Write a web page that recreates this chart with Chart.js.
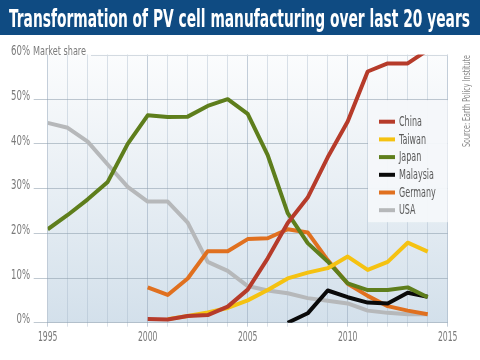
<!DOCTYPE html>
<html><head><meta charset="utf-8">
<script src="https://cdn.jsdelivr.net/npm/chart.js@4/dist/chart.umd.min.js"></script>
<style>html,body{margin:0;padding:0;background:#fff}#wrap{width:480px;height:360px;position:relative}canvas{display:block}</style>
</head><body><div id="wrap"><canvas id="c" width="480" height="360"></canvas></div>
<script>
// ---- data ----
const chartTitle = 'Transformation of PV cell manufacturing over last 20 years';
const yAxisName = 'Market share';
const sourceNote = 'Source: Earth Policy Institute';
const years = [1995,1996,1997,1998,1999,2000,2001,2002,2003,2004,2005,2006,2007,2008,2009,2010,2011,2012,2013,2014];
const seriesNames = ['China','Taiwan','Japan','Malaysia','Germany','USA'];
const china    = [null,null,null,null,null,0.8,0.7,1.5,1.7,3.6,7.4,14.4,22.3,28.0,37.0,45.0,56.2,58.0,58.0,61.0];
const taiwan   = [null,null,null,null,null,null,0.8,1.5,2.3,3.3,5.0,7.3,9.9,11.2,12.2,14.8,11.8,13.6,17.9,15.9];
const japan    = [20.9,24.1,27.6,31.5,40.0,46.4,46.0,46.1,48.5,50.0,46.7,37.5,24.5,17.8,13.7,8.8,7.3,7.3,7.9,5.7];
const malaysia = [null,null,null,null,null,null,null,null,null,null,null,null,0.0,2.1,7.2,5.7,4.5,4.3,6.7,5.8];
const germany  = [null,null,null,null,null,7.9,6.2,9.9,16.0,16.0,18.7,18.9,20.9,20.2,14.0,8.7,6.0,3.7,2.7,1.9];
const usa      = [44.7,43.6,40.5,35.4,30.4,27.1,27.1,22.4,13.6,11.6,8.2,7.2,6.6,5.5,4.9,4.3,2.7,2.2,1.9,1.9];
const yTicks = [0,10,20,30,40,50,60];
const xTickYears = [1995,2000,2005,2010,2015];

const seriesValues = [china, taiwan, japan, malaysia, germany, usa];
const seriesColors = ['#b63b2a','#f5c211','#5e7e1c','#0a0a0a','#e0701f','#b6b8ba'];

// ---- font selection ----
function pickFont(cands, fallback){
  const c = document.createElement('canvas').getContext('2d');
  const s = 'Transformation 0123456789% Malaysia';
  c.font = '40px monospace'; const b1 = c.measureText(s).width;
  c.font = '40px serif'; const b2 = c.measureText(s).width;
  for (const f of cands){
    c.font = `40px "${f}", monospace`; const w1 = c.measureText(s).width;
    c.font = `40px "${f}", serif`; const w2 = c.measureText(s).width;
    if (w1 !== b1 && w2 !== b2) return f;
  }
  return fallback;
}
const FONT = pickFont(['Liberation Sans Narrow','DejaVu Sans Condensed','Roboto Condensed','Open Sans Condensed'], 'Roboto');
Chart.defaults.font.family = `"${FONT}", Roboto, sans-serif`;
const font = (px, bold) => `${bold ? 'bold ' : ''}${px}px "${FONT}", Roboto, sans-serif`;

function scaledText(ctx, text, x, y, sx, align){
  const w = ctx.measureText(text).width;
  ctx.save();
  ctx.translate(x, y);
  ctx.scale(sx, 1);
  ctx.textAlign = 'left';
  let x0 = 0;
  if (align === 'right') x0 = -w; else if (align === 'center') x0 = -w/2;
  ctx.fillText(text, x0, 0);
  ctx.restore();
}
function fitText(ctx, text, x, y, targetW, align){
  scaledText(ctx, text, x, y, targetW / ctx.measureText(text).width, align);
}

const decorPlugin = {
  id: 'decor',
  beforeDraw(chart){
    const {ctx, chartArea:a} = chart;
    ctx.save();
    ctx.fillStyle = '#ffffff';
    ctx.fillRect(0,0,chart.width,chart.height);
    const g = ctx.createLinearGradient(0, a.top, 0, a.bottom);
    g.addColorStop(0, '#fbfcfd');
    g.addColorStop(0.45, '#eaf0f5');
    g.addColorStop(1, '#d3e0eb');
    ctx.fillStyle = g;
    ctx.fillRect(a.left, a.top, a.right - a.left, a.bottom - a.top);
    // title band
    ctx.fillStyle = '#0f4b82';
    ctx.fillRect(0, 0, chart.width, 35);
    ctx.fillStyle = '#ffffff';
    ctx.font = font(24, true);
    ctx.textBaseline = 'alphabetic';
    fitText(ctx, chartTitle, 9, 26.5, 461, 'left');
    ctx.restore();
  },
  beforeDatasetsDraw(chart){
    const {ctx, chartArea:a, scales} = chart;
    ctx.save();
    const yTop = scales.y.getPixelForValue(60);
    ctx.strokeStyle = '#d3dae1';
    ctx.lineWidth = 1;
    ctx.beginPath(); ctx.moveTo(91, Math.round(yTop)+0.5); ctx.lineTo(a.right, Math.round(yTop)+0.5); ctx.stroke();
    // tick labels
    ctx.fillStyle = '#7a7a7a';
    ctx.font = font(14);
    ctx.textBaseline = 'middle';
    const xsx = 19.6 / ctx.measureText('1995').width;
    const ysx = 19 / ctx.measureText('50%').width;
    scales.y.ticks.forEach(t => {
      if (!yTicks.includes(t.value)) return;
      scaledText(ctx, t.value + '%', 30, scales.y.getPixelForValue(t.value) - 3, ysx, 'right');
    });
    scales.x.ticks.forEach(t => {
      if (!xTickYears.includes(t.value)) return;
      scaledText(ctx, String(t.value), scales.x.getPixelForValue(t.value), a.bottom + 15, xsx, 'center');
    });
    // axis name
    ctx.font = font(13);
    fitText(ctx, yAxisName, 33, yTop - 3, 53, 'left');
    // legend box
    const lx = 368, ly = scales.y.getPixelForValue(50) + 1;
    ctx.fillStyle = 'rgba(245,247,250,0.96)';
    ctx.fillRect(lx, ly, a.right - lx, 122);
    ctx.font = font(14);
    const sx = 35 / ctx.measureText('Malaysia').width;
    chart.data.datasets.forEach((ds, i) => {
      const y = ly + 21.5 + i * 17.7;
      ctx.strokeStyle = ds.borderColor;
      ctx.lineWidth = 4;
      ctx.lineCap = 'butt';
      ctx.beginPath(); ctx.moveTo(379, y); ctx.lineTo(395, y); ctx.stroke();
      ctx.fillStyle = '#5a5a5a';
      scaledText(ctx, ds.label, 399, y + 0.5, sx, 'left');
    });
    ctx.restore();
  },
  afterDraw(chart){
    const {ctx} = chart;
    ctx.save();
    ctx.fillStyle = '#8a8a8a';
    ctx.font = font(11);
    ctx.textBaseline = 'middle';
    ctx.translate(467, 55);
    ctx.rotate(-Math.PI/2);
    fitText(ctx, sourceNote, 0, 0, 92, 'right');
    ctx.restore();
  }
};

const datasets = seriesNames.map((name, i) => ({
  label: name,
  data: years.map((yr, j) => ({x: yr, y: seriesValues[i][j]})),
  borderColor: seriesColors[i],
  backgroundColor: seriesColors[i],
  borderWidth: 4,
  pointRadius: 0,
  tension: 0,
  borderJoinStyle: 'round',
  borderCapStyle: 'butt',
  spanGaps: false,
  fill: false
}));

new Chart(document.getElementById('c'), {
  type: 'line',
  data: { datasets },
  plugins: [decorPlugin],
  options: {
    responsive: false,
    animation: false,
    devicePixelRatio: 1,
    layout: { padding: { top: 54.5, right: 32.3, bottom: 0, left: 0 } },
    plugins: { legend: { display: false }, tooltip: { enabled: false }, title: { display: false } },
    scales: {
      x: {
        type: 'linear', min: 1995, max: 2015,
        afterFit(s){ s.height = 37.3; },
        afterBuildTicks(s){ s.ticks = []; for (let v = 1995; v <= 2015; v++) s.ticks.push({value: v}); },
        ticks: { display: false, autoSkip: false, maxRotation: 0, minRotation: 0 },
        grid: {
          color: ctx => (ctx.tick && ctx.tick.value % 5 === 0) ? 'rgba(150,168,188,0.55)' : 'rgba(160,178,198,0.38)',
          tickLength: 4
        },
        border: { display: false }
      },
      y: {
        min: 0, max: 60,
        afterFit(s){ s.width = 47.7; },
        afterBuildTicks(s){ s.ticks = yTicks.map(v => ({value: v})); },
        ticks: { display: false },
        grid: {
          color: ctx => (ctx.tick && ctx.tick.value === 60) ? 'rgba(0,0,0,0)' : 'rgba(140,156,172,0.55)',
          tickLength: 14
        },
        border: { display: false }
      }
    }
  }
});
</script>
</body></html>
